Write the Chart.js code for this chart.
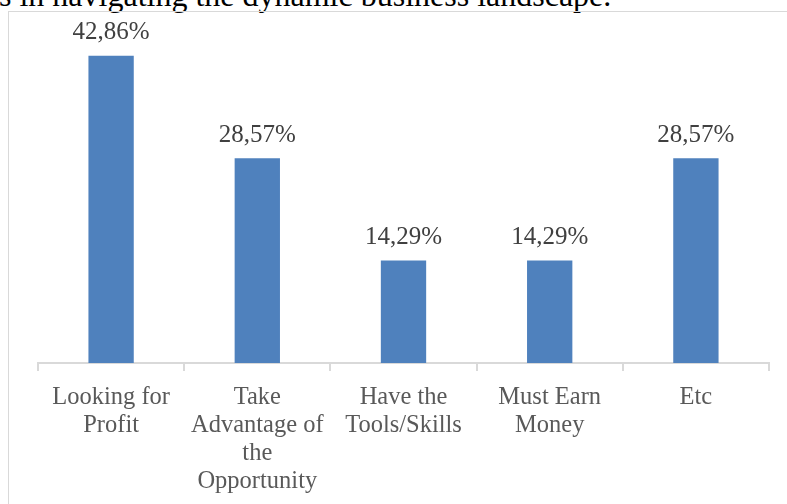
<!DOCTYPE html>
<html>
<head>
<meta charset="utf-8">
<script src="https://cdn.jsdelivr.net/npm/chart.js@4"></script>
<style>
    html, body { margin: 0; padding: 0; background: #fff; overflow: hidden; }
    #pagina { position: relative; width: 787px; height: 504px; }
    #texto { position: absolute; left: -1px; top: -21px; font: 32px/32px 'Liberation Serif', serif; color: #000; white-space: nowrap; }
    #moldura { position: absolute; left: 8px; top: 11px; width: 800px; height: 600px; border-left: 1px solid #d9d9d9; border-top: 1px solid #d9d9d9; }
    #caixa { position: absolute; left: 0; top: 0; width: 787px; height: 504px; }
</style>
</head>
<body>
<div id="pagina">
    <div id="texto">s in navigating the dynamic business landscape.</div>
    <div id="moldura"></div>
    <div id="caixa"><canvas id="grafico1"></canvas></div>
</div>
<script>
const grafico_motivos = document.getElementById('grafico1');

const labels = [
    ['Looking for', 'Profit'],
    ['Take', 'Advantage of', 'the', 'Opportunity'],
    ['Have the', 'Tools/Skills'],
    ['Must Earn', 'Money'],
    ['Etc']
]

const percentuais = [42.86, 28.57, 14.29, 14.29, 28.57];

// rótulos em cima das barras, com vírgula decimal
const rotulos_barras = {
    id: 'rotulos_barras',
    afterDatasetsDraw(chart) {
        const ctx = chart.ctx;
        const meta = chart.getDatasetMeta(0);
        ctx.save();
        ctx.font = '25px "Liberation Serif"';
        ctx.fillStyle = '#404040';
        ctx.textAlign = 'center';
        ctx.textBaseline = 'alphabetic';
        meta.data.forEach((barra, i) => {
            const texto = percentuais[i].toFixed(2).replace('.', ',') + '%';
            ctx.fillText(texto, barra.x, barra.y - 16.5);
        });
        ctx.restore();
    }
};

const data_motivos = {
    labels: labels,
    datasets: [{
        label: 'Motivos',
        data: percentuais,
        backgroundColor: '#4f81bd',
        borderWidth: 0,
        categoryPercentage: 1,
        barPercentage: 0.31
    }
    ]
};

const config_motivos = {
    type: 'bar',
    data: data_motivos,
    options: {
        responsive: true,
        maintainAspectRatio: false,
        animation: false,
        layout: {
            padding: { left: 38, right: 18, top: 4.5, bottom: 0 }
        },
        scales: {
            y: {
                display: false,
                min: 0,
                max: 50
            },
            x: {
                afterFit: (scale) => { scale.height = 141; },
                grid: {
                    offset: true,
                    drawOnChartArea: false,
                    drawTicks: true,
                    tickLength: 8,
                    color: '#d9d9d9',
                    lineWidth: 2
                },
                border: {
                    display: true,
                    color: '#d9d9d9',
                    width: 2
                },
                ticks: {
                    padding: 12,
                    color: '#595959',
                    maxRotation: 0,
                    autoSkip: false,
                    font: {
                        size: 24.5,
                        family: 'Liberation Serif',
                        lineHeight: 1.15
                    }
                }
            }
        },
        plugins: {
            legend: { display: false },
            title: { display: false },
            tooltip: { enabled: false }
        }
    },
    plugins: [rotulos_barras]
};

const grafico_motivos_chart = new Chart(grafico_motivos, config_motivos);
</script>
</body>
</html>
